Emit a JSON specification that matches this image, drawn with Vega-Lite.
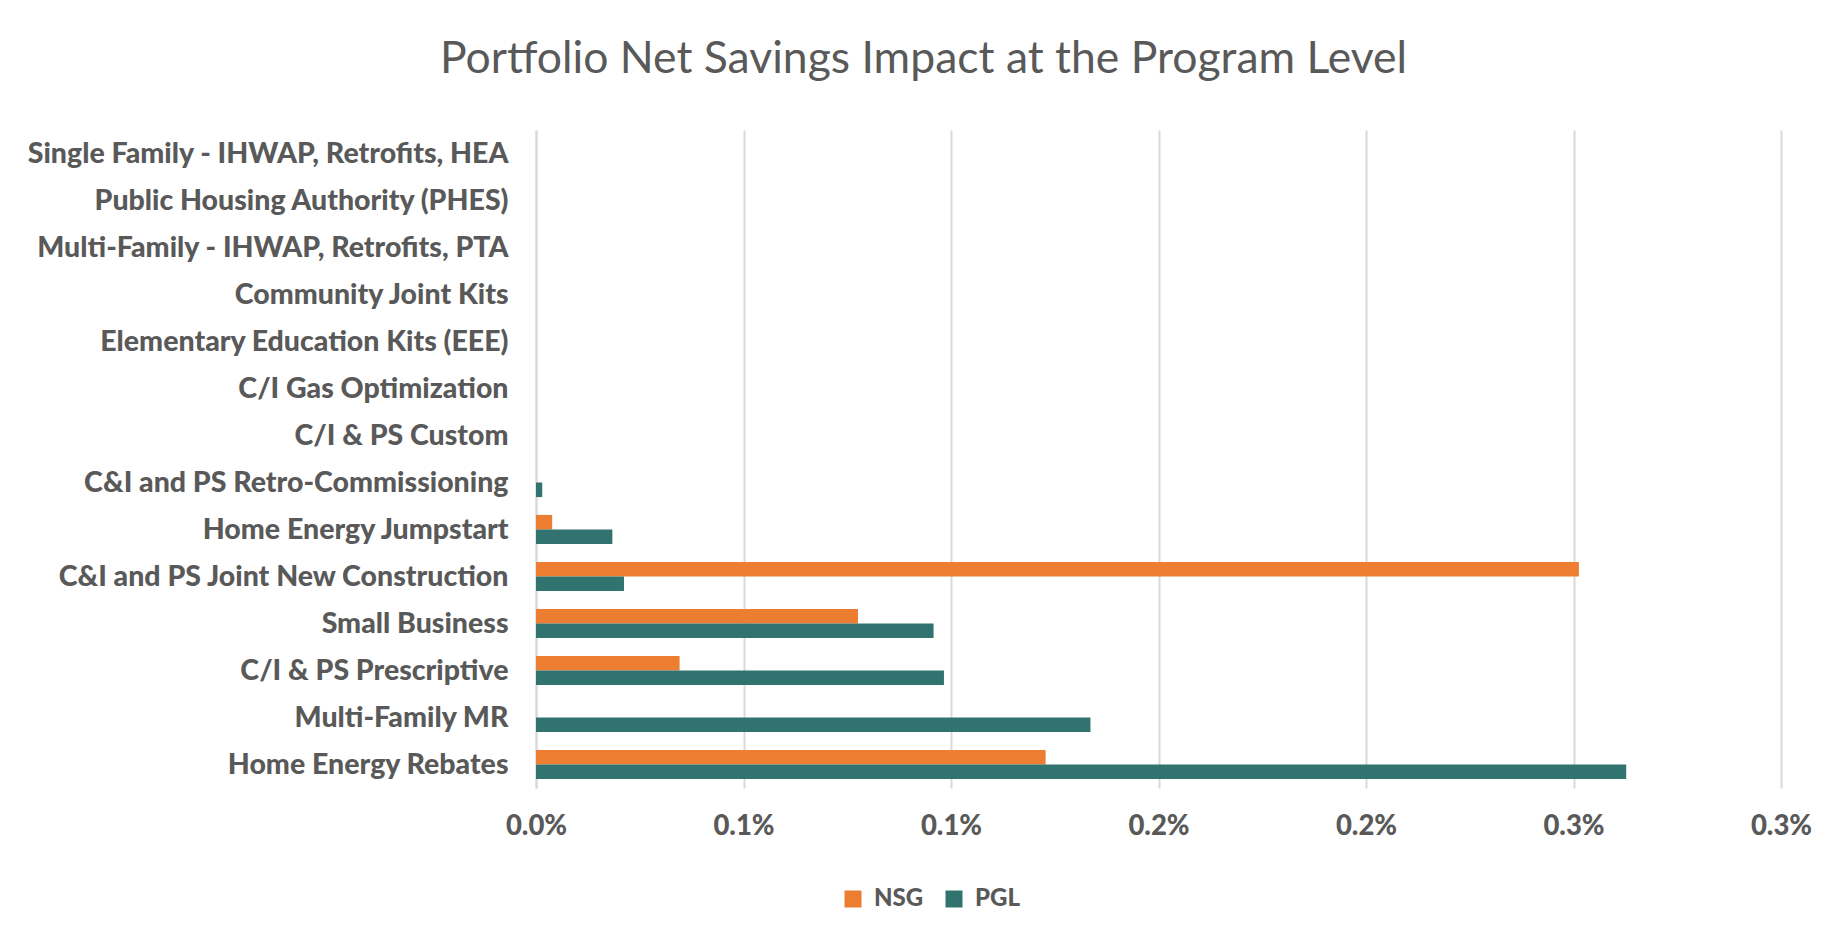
{
  "$schema": "https://vega.github.io/schema/vega-lite/v6.json",
  "autosize": {"type": "none"},
  "padding": {"left": 536, "top": 130, "right": 67, "bottom": 158},
  "width": 1245,
  "height": 658,
  "background": "white",
  "title": {
    "text": "Portfolio Net Savings Impact at the Program Level",
    "font": "Lato",
    "fontSize": 44.5,
    "fontWeight": "normal",
    "color": "#595959",
    "anchor": "middle",
    "dx": -235,
    "offset": 48
  },
  "data": {
    "values": [
      {"program": "Single Family - IHWAP, Retrofits, HEA", "series": "NSG", "value": 0},
      {"program": "Single Family - IHWAP, Retrofits, HEA", "series": "PGL", "value": 0},
      {"program": "Public Housing Authority (PHES) ", "series": "NSG", "value": 0},
      {"program": "Public Housing Authority (PHES) ", "series": "PGL", "value": 0},
      {"program": "Multi-Family - IHWAP, Retrofits, PTA", "series": "NSG", "value": 0},
      {"program": "Multi-Family - IHWAP, Retrofits, PTA", "series": "PGL", "value": 0},
      {"program": "Community Joint Kits", "series": "NSG", "value": 0},
      {"program": "Community Joint Kits", "series": "PGL", "value": 0},
      {"program": "Elementary Education Kits (EEE)", "series": "NSG", "value": 0},
      {"program": "Elementary Education Kits (EEE)", "series": "PGL", "value": 0},
      {"program": "C/I Gas Optimization", "series": "NSG", "value": 0},
      {"program": "C/I Gas Optimization", "series": "PGL", "value": 0},
      {"program": "C/I & PS Custom ", "series": "NSG", "value": 0},
      {"program": "C/I & PS Custom ", "series": "PGL", "value": 0},
      {"program": "C&I and PS Retro-Commissioning", "series": "NSG", "value": 0},
      {"program": "C&I and PS Retro-Commissioning", "series": "PGL", "value": 0.000015},
      {"program": "Home Energy Jumpstart", "series": "NSG", "value": 0.000039},
      {"program": "Home Energy Jumpstart", "series": "PGL", "value": 0.000184},
      {"program": "C&I and PS Joint New Construction", "series": "NSG", "value": 0.002513},
      {"program": "C&I and PS Joint New Construction", "series": "PGL", "value": 0.000212},
      {"program": "Small Business ", "series": "NSG", "value": 0.000776},
      {"program": "Small Business ", "series": "PGL", "value": 0.000958},
      {"program": "C/I & PS Prescriptive ", "series": "NSG", "value": 0.000346},
      {"program": "C/I & PS Prescriptive ", "series": "PGL", "value": 0.000983},
      {"program": "Multi-Family MR", "series": "NSG", "value": 0},
      {"program": "Multi-Family MR", "series": "PGL", "value": 0.001336},
      {"program": "Home Energy Rebates ", "series": "NSG", "value": 0.001228},
      {"program": "Home Energy Rebates ", "series": "PGL", "value": 0.002627}
    ]
  },
  "mark": {"type": "bar", "orient": "horizontal"},
  "encoding": {
    "y": {
      "field": "program",
      "type": "nominal",
      "sort": null,
      "scale": {"paddingInner": 0.38, "paddingOuter": 0.19},
      "axis": {
        "title": null,
        "ticks": false,
        "domain": true,
        "domainColor": "#d9d9d9",
        "domainWidth": 2,
        "labelPadding": 28,
        "labelFont": "Lato",
        "labelFontWeight": 900,
        "labelFontSize": 28.5,
        "labelColor": "#595959",
        "labelLimit": 700
      }
    },
    "yOffset": {
      "field": "series",
      "type": "nominal",
      "sort": ["NSG", "PGL"],
      "scale": {"paddingInner": 0, "paddingOuter": 0}
    },
    "x": {
      "field": "value",
      "type": "quantitative",
      "scale": {"domain": [0, 0.003], "nice": false},
      "axis": {
        "title": null,
        "values": [0, 0.0005, 0.001, 0.0015, 0.002, 0.0025, 0.003],
        "labelExpr": "format(datum.value + 0.0000001, '.1%')",
        "labelFlush": false,
        "ticks": false,
        "domain": false,
        "grid": true,
        "gridColor": "#d9d9d9",
        "gridWidth": 2,
        "labelPadding": 24,
        "labelFont": "Lato",
        "labelFontWeight": 900,
        "labelFontSize": 27.5,
        "labelColor": "#595959"
      }
    },
    "color": {
      "field": "series",
      "type": "nominal",
      "scale": {"domain": ["NSG", "PGL"], "range": ["#ED7D31", "#31736E"]},
      "legend": {
        "title": null,
        "orient": "none",
        "direction": "horizontal",
        "legendX": 305,
        "legendY": 757,
        "symbolType": "square",
        "symbolSize": 289,
        "symbolStrokeWidth": 0,
        "labelFont": "Lato",
        "labelFontWeight": 900,
        "labelFontSize": 24,
        "labelColor": "#595959",
        "labelOffset": 9,
        "columnPadding": 18
      }
    }
  },
  "config": {
    "view": {"stroke": null}
  }
}
